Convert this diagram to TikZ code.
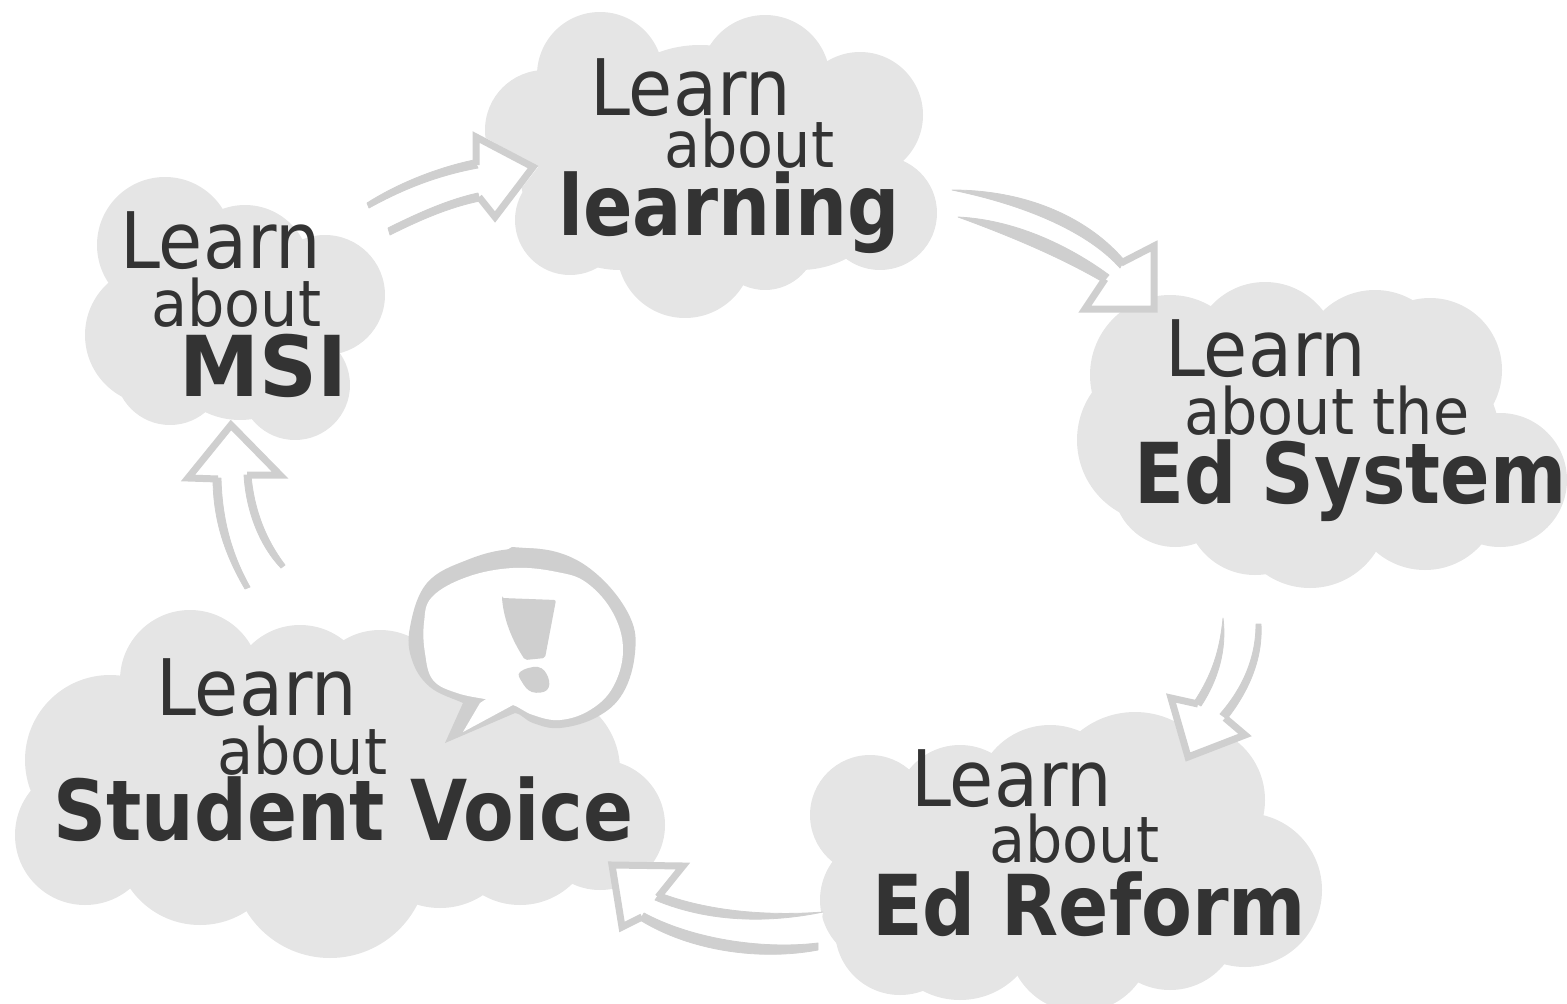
\documentclass[tikz,border=0pt]{standalone}
\usepackage{fontspec}
\newfontfamily\lightface[FakeStretch=0.92]{DejaVu Sans}
\newfontfamily\heavyface[FakeStretch=0.87]{DejaVu Sans Bold}
\definecolor{cloudgray}{HTML}{E5E5E5}
\definecolor{linegray}{HTML}{CFCFCF}
\definecolor{textgray}{HTML}{333333}
\newcommand{\puffs}[1]{\foreach \cx/\cy/\cr in {#1} {\fill[cloudgray] (\cx,\cy) circle[radius=\cr];}}
\tikzset{
  head/.style={draw=linegray,line width=7pt,line join=miter,miter limit=6,fill=none},
  whitefill/.style={fill=white,draw=none},
  tail/.style={fill=linegray,draw=linegray,line width=0.8pt,line join=round},
  big/.style={anchor=base west,inner sep=0pt,text=textgray,font=\lightface\fontsize{78}{78}\selectfont},
  mid/.style={anchor=base west,inner sep=0pt,text=textgray,font=\lightface\fontsize{64}{64}\selectfont},
  key/.style={anchor=base west,inner sep=0pt,text=textgray,font=\heavyface\fontsize{84}{84}\selectfont}
}
\begin{document}
\begin{tikzpicture}[x=1pt,y=-1pt]
\useasboundingbox (0,0) rectangle (1567,1004);
\begin{scope}
\clip (0,0) rectangle (1567,1004);
% clouds
\puffs{600/75/63,765/80/65,860/115/63,880/213/57,765/238/52,685/250/68,570/220/55,545/130/60,700/165/120,620/170/100,800/170/100}
\puffs{165/245/68,325/295/60,245/270/65,155/335/70,295/385/55,170/370/55,240/340/80}
\puffs{1170/375/80,1265/355/73,1375/365/75,1430/370/72,1500/480/67,1160/440/83,1175/485/62,1255/505/70,1310/510/78,1425/495/75,1300/430/120,1400/440/100}
\puffs{870/815/60,960/810/65,1050/800/75,1135/800/88,1190/800/75,1245/890/77,885/900/65,900/930/65,1080/940/72,1170/920/70,960/920/80,1060/860/120,1150/860/100}
\puffs{190/680/70,110/760/85,85/835/70,300/695/70,380/700/70,540/770/80,600/825/65,520/830/75,330/860/98,200/840/85,440/830/78,350/790/120,220/780/100,470/760/80}
% arrow: MSI to learning
\fill[whitefill] (367,205) .. controls (400,183) and (440,170) .. (475,163) -- (475,132) -- (538,167) -- (495,222) -- (478,198) .. controls (450,205) and (420,215) .. (388,232) -- cycle;
\draw[head] (476,165) -- (476,137) -- (533,167) -- (495,217) -- (479,197);
\draw[tail] (367,203) .. controls (400,182) and (440,167) .. (474,160) -- (478,168) .. controls (440,175) and (405,188) .. (369,208) -- cycle;
\draw[tail] (388,228) .. controls (420,212) and (450,199) .. (478,193) -- (480,201) .. controls (450,207) and (420,220) .. (390,235) -- cycle;
% arrow: learning to Ed System
\fill[whitefill] (952,191) .. controls (1040,190) and (1100,235) .. (1122,265) -- (1158,241) -- (1157,312) -- (1080,312) -- (1107,278) .. controls (1060,250) and (1010,228) .. (958,217) -- cycle;
\draw[head] (1121,263) -- (1154,246) -- (1154,309) -- (1085,309) -- (1105,279);
\draw[tail] (952,190) .. controls (1030,190) and (1090,220) .. (1124,260) -- (1120,268) .. controls (1090,234) and (1030,206) .. (952,190) -- cycle;
\draw[tail] (958,217) .. controls (1020,220) and (1075,250) .. (1109,275) -- (1103,282) .. controls (1060,257) and (1010,236) .. (958,217) -- cycle;
% arrow: Ed System to Ed Reform
\fill[whitefill] (1223,618) .. controls (1225,650) and (1215,680) .. (1198,705) -- (1167,696) -- (1186,761) -- (1250,735) -- (1223,717) .. controls (1245,690) and (1260,660) .. (1258,623) -- cycle;
\draw[head] (1198,704) -- (1171,698) -- (1188,757) -- (1245,735) -- (1225,718);
\draw[tail] (1223,618) .. controls (1227,650) and (1218,680) .. (1201,706) -- (1194,702) .. controls (1212,675) and (1220,650) .. (1223,618) -- cycle;
\draw[tail] (1256,624) -- (1261,624) .. controls (1263,660) and (1248,692) .. (1227,719) -- (1220,714) .. controls (1241,690) and (1256,660) .. (1256,624) -- cycle;
% arrow: Ed Reform to Student Voice
\fill[whitefill] (823,912) .. controls (770,918) and (710,915) .. (658,897) -- (690,863) -- (609,862) -- (621,931) -- (642,917) .. controls (690,945) and (760,955) .. (818,948) -- cycle;
\draw[head] (658,897) -- (683,866) -- (612,865) -- (622,927) -- (642,917);
\draw[tail] (823,912) .. controls (770,916) and (710,912) .. (660,893) -- (655,900) .. controls (710,923) and (770,923) .. (823,912) -- cycle;
\draw[tail] (818,943) .. controls (760,950) and (690,938) .. (644,913) -- (640,920) .. controls (690,951) and (760,961) .. (818,950) -- cycle;
% arrow: Student Voice to MSI
\fill[whitefill] (248,588) .. controls (225,555) and (217,520) .. (217,478) -- (184,478) -- (231,422) -- (285,475) -- (247,475) .. controls (250,510) and (262,545) .. (283,567) -- cycle;
\draw[head] (218,479) -- (188,478) -- (231,425) -- (280,475) -- (247,475);
\draw[tail] (245,589) .. controls (225,555) and (213,520) .. (213,478) -- (221,478) .. controls (222,520) and (232,555) .. (250,587) -- cycle;
\draw[tail] (281,568) .. controls (259,545) and (246,510) .. (244,475) -- (251,475) .. controls (254,510) and (266,540) .. (285,565) -- cycle;
% speech bubble
\fill[linegray] plot[smooth cycle,tension=0.65] coordinates {(512,549)(560,553)(600,577)(630,617)(635,653)(623,693)(597,717)(560,728)(533,723)(515,713)(490,715)(463,703)(430,687)(412,660)(410,627)(427,583)(467,560)};
\fill[linegray] (512,547) -- (540,549) -- (500,554) -- cycle;
\fill[linegray] (515,713) -- (445,743) -- (463,703) -- (500,690) -- cycle;
\fill[white] plot[smooth cycle,tension=0.65] coordinates {(513,568)(557,572)(587,583)(613,613)(623,650)(613,687)(590,710)(560,720)(533,715)(513,705)(490,700)(457,693)(433,680)(425,653)(424,623)(432,597)(467,577)};
\fill[white] (513,705) -- (463,732) -- (480,703) -- (500,690) -- cycle;
\fill[linegray,rounded corners=2pt] (502,598) -- (556,600) -- (545,658) -- (525,660) .. controls (512,640) and (504,620) .. cycle;
\fill[linegray] plot[smooth cycle,tension=0.7] coordinates {(520,672)(538,667)(548,677)(547,690)(532,692)(522,682)};
\end{scope}
% texts
\node[big] (learnA) at (590,115) {Learn};
\node[mid] (aboutA) at (664,167) {about};
\node[key] (keyA) at (558,235) {learning};
\node[big] (learnB) at (120,268) {Learn};
\node[mid] (aboutB) at (151,326) {about};
\node[key,xscale=1.1,transform shape] (keyB) at (179,396) {MSI};
\node[big] (learnC) at (1165,376) {Learn};
\node[mid] (aboutC) at (1184,434) {about the};
\node[key] (keyC) at (1134,503) {Ed System};
\node[big] (learnD) at (911,806) {Learn};
\node[mid] (aboutD) at (989,862) {about};
\node[key,xscale=1.015,transform shape] (keyD) at (872,935) {Ed Reform};
\node[big] (learnE) at (156,715) {Learn};
\node[mid] (aboutE) at (217,774) {about};
\node[key,xscale=1.01,transform shape] (keyE) at (53,840) {Student Voice};
\end{tikzpicture}
\end{document}
